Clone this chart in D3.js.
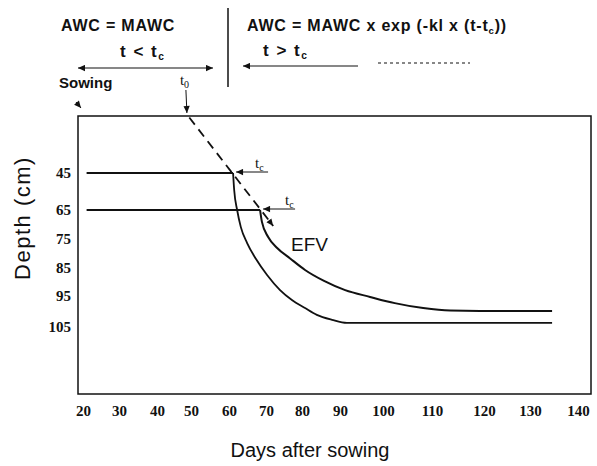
<!DOCTYPE html>
<html>
<head>
<meta charset="utf-8">
<script src="https://cdn.jsdelivr.net/npm/d3@7"></script>
<style>
  body { margin: 0; background: #fff; }
  svg { display: block; }
</style>
</head>
<body>
<div id="canvas"></div>
<script>
// tick values as printed on the scanned figure
var dayTicks = [20, 30, 40, 50, 60, 70, 80, 90, 100, 110, 120, 130, 140];
var depthTicks = [45, 65, 75, 85, 95, 105];

// soil horizons (cm) and the day the root front reaches them (t_c)
var horizonDepths = [45, 65];
var tcDays = [61.1, 68.4];
var horizonStartDay = 21;
var sowingDay = 20;
var t0Day = 48.8;

// AWC decline after t_c, [day, depth]
var curve45 = [[61.1, 45], [61.4, 54.2], [62.2, 65], [63.2, 70.9], [64.9, 76.4],
  [67.3, 81.9], [70.3, 87.5], [73.9, 92.9], [77.2, 96.3], [80.8, 98.9],
  [83.9, 101.1], [87.9, 102.7], [91.6, 103.7], [100, 103.7], [120, 103.7], [134.6, 103.7]];
var curveEFV = [[68.4, 65], [68.9, 69.1], [70.6, 74.3], [73.1, 78.1], [76.7, 81.7],
  [80.8, 85.7], [85.8, 89.6], [91.2, 92.9], [97.0, 95.3], [102.4, 97.3],
  [108.2, 98.9], [113.5, 99.7], [119.2, 99.8], [127, 99.8], [134.6, 99.8]];

// root front, from t0 downwards
var rootFront = [[49.5, 15], [72, 70.5]];

var width = 597, height = 466;
var plot = { left: 78, top: 116, right: 591, bottom: 394 };

// the scanned axes are not evenly spaced, so map each printed tick to where it sits
var dayPos = [83, 119, 157, 191, 229, 266, 302, 340, 383, 432, 484, 530, 578];
var depthPos = [173, 210, 239, 268, 296, 327];

var x = d3.scaleLinear().domain(dayTicks).range(dayPos);
var y = d3.scaleLinear().domain(depthTicks).range(depthPos);

var ink = '#111';
var sans = 'Liberation Sans, Arial, sans-serif';
var serif = 'Liberation Serif, Times New Roman, serif';

var svg = d3.select('#canvas').append('svg')
  .attr('width', width)
  .attr('height', height);

var defs = svg.append('defs');
defs.append('marker')
  .attr('id', 'arr')
  .attr('viewBox', '0 0 10 10')
  .attr('refX', 10).attr('refY', 5)
  .attr('markerWidth', 8).attr('markerHeight', 7)
  .attr('markerUnits', 'userSpaceOnUse')
  .attr('orient', 'auto-start-reverse')
  .append('path')
  .attr('d', 'M0,0.5L10,5L0,9.5Z')
  .attr('fill', ink);

// frame
svg.append('rect')
  .attr('x', plot.left).attr('y', plot.top)
  .attr('width', plot.right - plot.left)
  .attr('height', plot.bottom - plot.top)
  .attr('fill', 'none')
  .attr('stroke', ink)
  .attr('stroke-width', 1.5);

// axes
var xAxis = svg.append('g')
  .attr('transform', 'translate(0,' + plot.bottom + ')')
  .call(d3.axisBottom(x).tickValues(dayTicks).tickSize(0).tickPadding(11));
var yAxis = svg.append('g')
  .attr('transform', 'translate(' + plot.left + ',0)')
  .call(d3.axisLeft(y).tickValues(depthTicks).tickSize(0).tickPadding(7));
[xAxis, yAxis].forEach(function (g) {
  g.select('.domain').remove();
  g.selectAll('text')
    .attr('font-family', serif)
    .attr('font-weight', 'bold')
    .attr('font-size', 15)
    .attr('fill', ink);
});

svg.append('text')
  .attr('x', 310).attr('y', 457)
  .attr('text-anchor', 'middle')
  .attr('font-family', sans)
  .attr('font-size', 20)
  .attr('fill', ink)
  .text('Days after sowing');

svg.append('text')
  .attr('transform', 'translate(30,218) rotate(-90)')
  .attr('text-anchor', 'middle')
  .attr('font-family', sans)
  .attr('font-size', 22)
  .attr('letter-spacing', 1.5)
  .attr('fill', ink)
  .text('Depth (cm)');

// horizon lines up to t_c
svg.selectAll('.horizon')
  .data(horizonDepths)
  .enter().append('line')
  .attr('class', 'horizon')
  .attr('x1', x(horizonStartDay))
  .attr('x2', function (d, i) { return x(tcDays[i]); })
  .attr('y1', function (d) { return y(d); })
  .attr('y2', function (d) { return y(d); })
  .attr('stroke', ink)
  .attr('stroke-width', 2);

var line = d3.line()
  .x(function (d) { return x(d[0]); })
  .y(function (d) { return y(d[1]); });

var smooth = d3.line()
  .x(function (d) { return x(d[0]); })
  .y(function (d) { return y(d[1]); })
  .curve(d3.curveMonotoneX);

svg.append('path')
  .datum(curve45)
  .attr('d', smooth)
  .attr('fill', 'none')
  .attr('stroke', ink)
  .attr('stroke-width', 1.8);

svg.append('path')
  .datum(curveEFV)
  .attr('d', smooth)
  .attr('fill', 'none')
  .attr('stroke', ink)
  .attr('stroke-width', 2);

// root front (dashed)
svg.append('path')
  .datum(rootFront)
  .attr('d', line)
  .attr('fill', 'none')
  .attr('stroke', ink)
  .attr('stroke-width', 1.8)
  .attr('stroke-dasharray', '9,6')
  .attr('marker-end', 'url(#arr)');

// t_c arrows and labels
horizonDepths.forEach(function (d, i) {
  var px = x(tcDays[i]), py = y(d) - 1;
  svg.append('line')
    .attr('x1', px + 35).attr('x2', px + 3)
    .attr('y1', py).attr('y2', py)
    .attr('stroke', ink).attr('stroke-width', 1)
    .attr('marker-end', 'url(#arr)');
  var t = svg.append('text')
    .attr('x', px + 22 + i * 3).attr('y', py - 4)
    .attr('font-family', serif)
    .attr('font-size', 15)
    .attr('fill', ink)
    .text('t');
  t.append('tspan').attr('dy', 3).attr('font-size', 10).text('c');
});

svg.append('text')
  .attr('x', 291).attr('y', 251)
  .attr('font-family', sans)
  .attr('font-size', 19)
  .attr('fill', ink)
  .text('EFV');

// header annotations; objects in parts are subscripts
function header(xp, yp, size, parts) {
  var t = svg.append('text')
    .attr('x', xp).attr('y', yp)
    .attr('font-family', sans)
    .attr('font-weight', 'bold')
    .attr('font-size', size)
    .attr('fill', ink);
  var low = false;
  parts.forEach(function (p) {
    if (typeof p === 'object') {
      t.append('tspan').attr('dy', 3).attr('font-size', size * 0.6).text(p.s);
      low = true;
    } else {
      t.append('tspan').attr('dy', low ? -3 : 0).text(p);
      low = false;
    }
  });
  return t;
}

header(61, 31, 16, ['AWC = MAWC']).attr('letter-spacing', 0.8);
header(120, 57, 17, ['t < t', { s: 'c' }]).attr('letter-spacing', 1.5);
header(247, 31, 16, ['AWC = MAWC x exp (-kl x (t-t', { s: 'c' }, '))']).attr('letter-spacing', 0.8);
header(263, 56, 17, ['t > t', { s: 'c' }]).attr('letter-spacing', 1.5);
header(59, 88, 15, ['Sowing']);

svg.append('line')
  .attr('x1', 228).attr('x2', 228)
  .attr('y1', 8).attr('y2', 87)
  .attr('stroke', ink).attr('stroke-width', 1.5);

svg.append('line')
  .attr('x1', 78).attr('x2', 213)
  .attr('y1', 68).attr('y2', 68)
  .attr('stroke', ink).attr('stroke-width', 1.2)
  .attr('marker-start', 'url(#arr)')
  .attr('marker-end', 'url(#arr)');

svg.append('line')
  .attr('x1', 358).attr('x2', 243)
  .attr('y1', 66).attr('y2', 66)
  .attr('stroke', ink).attr('stroke-width', 1.2)
  .attr('marker-end', 'url(#arr)');

svg.append('line')
  .attr('x1', 378).attr('x2', 470)
  .attr('y1', 63).attr('y2', 63)
  .attr('stroke', ink).attr('stroke-width', 1.2)
  .attr('stroke-dasharray', '3,3');

// t0 marker
var t0 = svg.append('text')
  .attr('x', x(t0Day) - 7).attr('y', 85)
  .attr('font-family', serif)
  .attr('font-size', 15)
  .attr('fill', ink)
  .text('t');
t0.append('tspan').attr('dy', 3).attr('font-size', 10).text('0');

svg.append('line')
  .attr('x1', x(t0Day) - 1).attr('x2', x(t0Day))
  .attr('y1', 90).attr('y2', plot.top - 3)
  .attr('stroke', ink).attr('stroke-width', 1)
  .attr('marker-end', 'url(#arr)');

// sowing marker
svg.append('line')
  .attr('x1', x(sowingDay) - 7).attr('x2', x(sowingDay) - 2)
  .attr('y1', plot.top - 14).attr('y2', plot.top - 8)
  .attr('stroke', ink).attr('stroke-width', 1)
  .attr('marker-end', 'url(#arr)');
</script>
</body>
</html>
